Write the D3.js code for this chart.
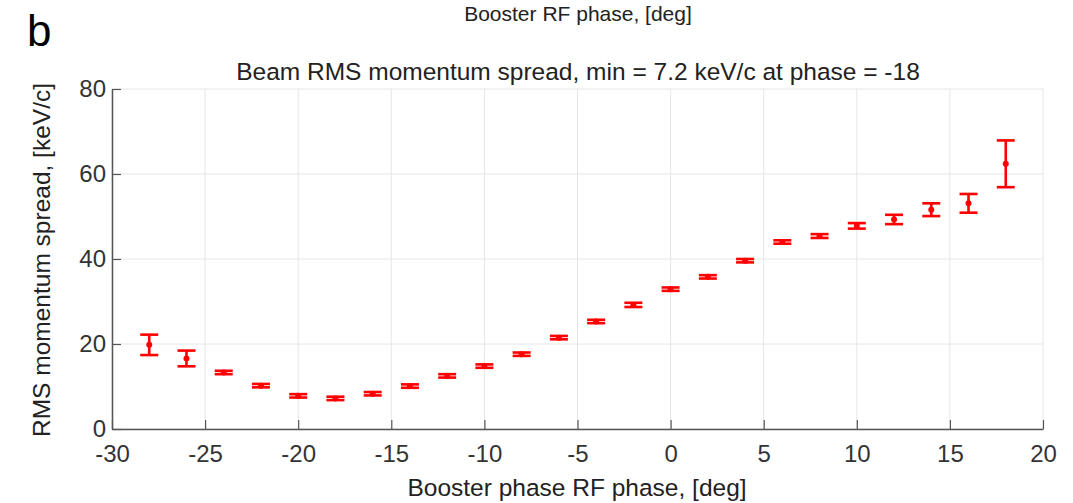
<!DOCTYPE html>
<html><head><meta charset="utf-8">
<script src="https://cdn.jsdelivr.net/npm/d3@7"></script>
<style>body{margin:0;background:#fff;} text{font-family:"Liberation Sans",Arial,sans-serif;}</style>
</head><body><svg id="c" width="1073" height="503"></svg>
<script>
const phases = [-28,-26,-24,-22,-20,-18,-16,-14,-12,-10,-8,-6,-4,-2,0,2,4,6,8,10,12,14,16,18];
const spread = [19.8,16.6,13.3,10.2,7.8,7.2,8.3,10.1,12.5,14.8,17.6,21.5,25.3,29.2,32.9,35.8,39.6,44.0,45.4,47.8,49.3,51.6,53.1,62.4];
const errors = [2.4,1.85,0.4,0.4,0.4,0.4,0.4,0.4,0.4,0.4,0.4,0.4,0.4,0.5,0.4,0.4,0.4,0.4,0.45,0.65,1.1,1.5,2.2,5.5];
const xTicks = [-30,-25,-20,-15,-10,-5,0,5,10,15,20];
const yTicks = [0,20,40,60,80];

const svg = d3.select("#c");
const x = d3.scaleLinear().domain([-30,20]).range([112,1043]);
const y = d3.scaleLinear().domain([0,80]).range([429,89]);

// grid
svg.append("g").selectAll("line").data(xTicks).join("line")
  .attr("x1",d=>x(d)).attr("x2",d=>x(d)).attr("y1",y(0)).attr("y2",y(80))
  .attr("stroke","#e6e6e6").attr("stroke-width",1);
svg.append("g").selectAll("line").data(yTicks).join("line")
  .attr("x1",x(-30)).attr("x2",x(20)).attr("y1",d=>y(d)).attr("y2",d=>y(d))
  .attr("stroke","#e6e6e6").attr("stroke-width",1);

// axes
const fmt = d => String(d);
const xAxis = d3.axisBottom(x).tickValues(xTicks).tickFormat(fmt).tickSizeInner(-9).tickSizeOuter(0).tickPadding(16);
const gx = svg.append("g").attr("transform",`translate(0,${y(0)})`).call(xAxis);
const yAxis = d3.axisLeft(y).tickValues(yTicks).tickFormat(fmt).tickSizeInner(-9).tickSizeOuter(0).tickPadding(6);
const gy = svg.append("g").attr("transform",`translate(${x(-30)},0)`).call(yAxis);
[gx,gy].forEach(g=>{
  g.select(".domain").attr("stroke","#555").attr("stroke-width",1.5);
  g.selectAll(".tick line").attr("stroke","#555").attr("stroke-width",1.2);
  g.selectAll(".tick text").attr("fill","#333").style("font-size","24px").style("font-family","Liberation Sans, Arial, sans-serif");
});

// error bars
const cap = 9;
const eb = svg.append("g").attr("stroke","#ff0000").attr("stroke-width",2.6).attr("fill","none");
phases.forEach((p,i)=>{
  const cx = x(p), top = y(spread[i]+errors[i]), bot = y(spread[i]-errors[i]);
  eb.append("line").attr("x1",cx).attr("x2",cx).attr("y1",top).attr("y2",bot);
  eb.append("line").attr("x1",cx-cap).attr("x2",cx+cap).attr("y1",top).attr("y2",top);
  eb.append("line").attr("x1",cx-cap).attr("x2",cx+cap).attr("y1",bot).attr("y2",bot);
});
svg.append("g").selectAll("circle").data(phases).join("circle")
  .attr("cx",d=>x(d)).attr("cy",(d,i)=>y(spread[i])).attr("r",3).attr("fill","#ff0000");

// texts
svg.append("text").attr("x",27).attr("y",46).style("font-size","44px").attr("fill","#000").text("b");
svg.append("text").attr("x",578).attr("y",21).attr("text-anchor","middle").style("font-size","21px").attr("fill","#222").text("Booster RF phase, [deg]");
svg.append("text").attr("x",578).attr("y",80).attr("text-anchor","middle").style("font-size","24.5px").attr("fill","#222").text("Beam RMS momentum spread, min = 7.2 keV/c at phase = -18");
svg.append("text").attr("x",577).attr("y",496).attr("text-anchor","middle").style("font-size","24.5px").attr("fill","#222").text("Booster phase RF phase, [deg]");
svg.append("text").attr("transform",`translate(50,260) rotate(-90)`).attr("text-anchor","middle").style("font-size","24.5px").attr("fill","#222").text("RMS momentum spread, [keV/c]");
</script></body></html>
